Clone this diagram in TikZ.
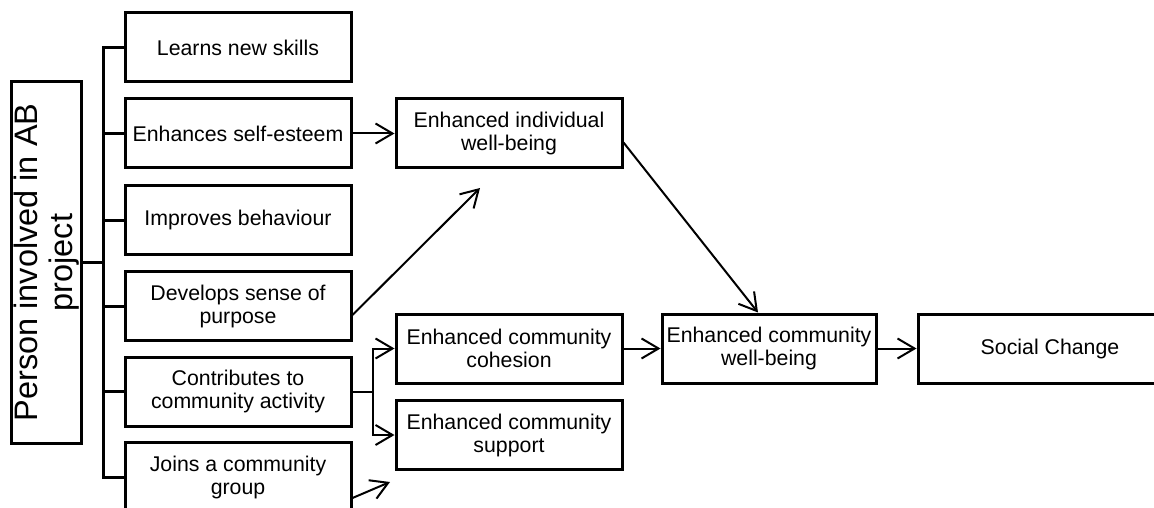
\documentclass[tikz,border=0pt]{standalone}
\usepackage{fontspec}
\setmainfont{Liberation Sans}
\usetikzlibrary{arrows.meta}

\tikzset{
  box/.style={draw, line width=3pt, minimum height=69pt, align=center,
    inner sep=2pt, font=\fontsize{21.3}{23}\selectfont},
  bracket/.style={line width=3pt},
  link/.style={line width=2pt, -{Straight Barb[length=17pt,width=20pt]}},
}

\begin{document}
\begin{tikzpicture}[x=1pt, y=-1pt]

    % Fix the frame of the picture (boxes run off the right and bottom)
    \useasboundingbox (0,0) rectangle (1154,508);
    \clip (0,0) rectangle (1154,508);

    % The person box on the left, written upwards
    \node[box, rotate=90, minimum width=361pt, minimum height=69pt,
      font=\fontsize{32.5}{35}\selectfont] (person) at (46.5,262.5)
      {Person involved in AB\\project};

    % What the person gets out of the project
    \node[box, minimum width=226pt] (skills) at (238,47.5) {Learns new skills};
    \node[box, minimum width=226pt] (esteem) at (238,133.5) {Enhances self-esteem};
    \node[box, minimum width=226pt] (behaviour) at (238,220) {Improves behaviour};
    \node[box, minimum width=226pt] (purpose) at (238,306) {Develops sense of\\purpose};
    \node[box, minimum width=226pt] (activity) at (238,391.5) {Contributes to\\community activity};
    \node[box, minimum width=226pt] (group) at (238,477) {Joins a community\\group};

    % Middle column
    \node[box, minimum width=226pt] (individual) at (509,133.5) {Enhanced individual\\well-being};
    \node[box, minimum width=226pt] (cohesion) at (509,348.5) {Enhanced community\\cohesion};
    \node[box, minimum width=226pt] (support) at (509,435) {Enhanced community\\support};

    % Right side
    \node[box, minimum width=214pt] (community) at (769,348.5) {Enhanced community\\well-being};
    \node[box, minimum width=264pt] (change) at (1050,348.5) {Social Change};

    % The bracket joining the person to the first column
    \coordinate (spine) at (103,262.5);
    \draw[bracket] (person.south) -- (spine);
    \draw[bracket] (skills.west) -- (skills.west -| spine) -- (group.west -| spine) -- (group.west);
    \foreach \n in {esteem,behaviour,purpose,activity}
        \draw[bracket] (\n.west -| spine) -- (\n.west);

    % Arrows towards individual well-being
    \draw[link] (esteem.east) -- (individual.west);
    \coordinate (purposetip) at (480,188);
    \draw[link] ([yshift=-9pt]purpose.east) -- (purposetip);

    % The fork from community activity
    \coordinate (fork) at (373,391.5);
    \draw[line width=2pt] (activity.east) -- (fork);
    \draw[link] (fork) |- (cohesion.west);
    \draw[link] (fork) |- (support.west);

    % Short arrow from the community group
    \coordinate (grouptip) at (390,482);
    \draw[link] ([yshift=-21pt]group.east) -- (grouptip);

    % On to community well-being and social change
    \draw[link] ([yshift=-9pt]individual.east) -- ([xshift=-11pt]community.north);
    \draw[link] (cohesion.east) -- (community.west);
    \draw[link] (community.east) -- (change.west);

\end{tikzpicture}
\end{document}
